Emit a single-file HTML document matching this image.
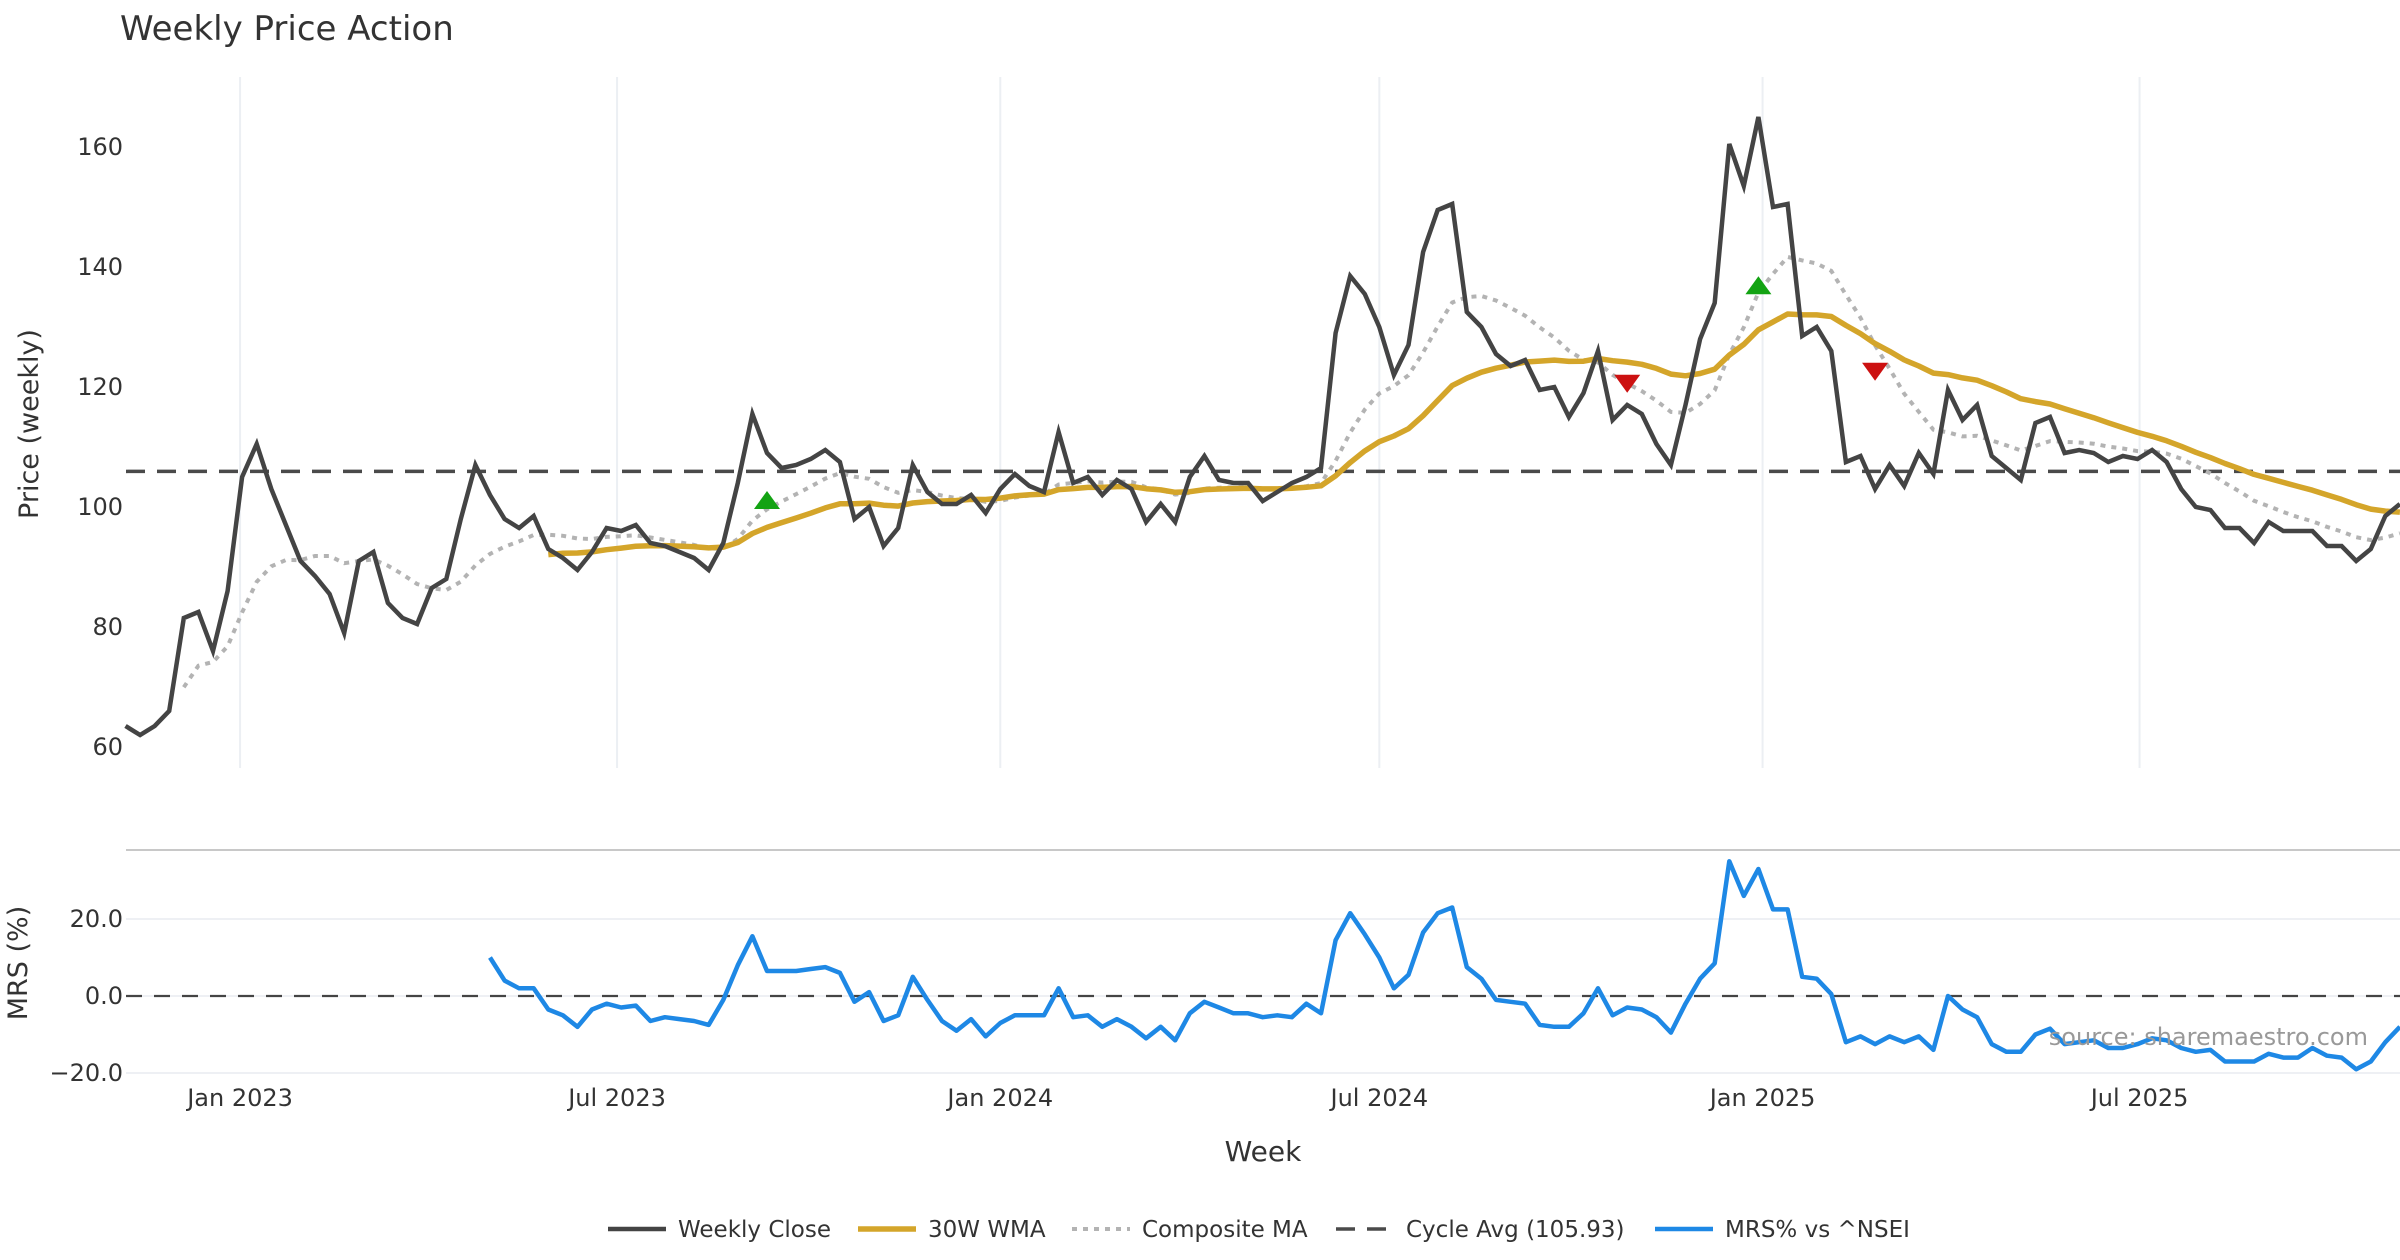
<!DOCTYPE html>
<html><head><meta charset="utf-8"><title>Weekly Price Action</title>
<style>
html,body{margin:0;padding:0;background:#fff;}
svg{display:block;font-family:"DejaVu Sans","Liberation Sans",sans-serif;}
</style></head>
<body>
<svg id="chart" width="2400" height="1260" viewBox="0 0 2400 1260" xmlns="http://www.w3.org/2000/svg">
<rect x="0" y="0" width="2400" height="1260" fill="#fff"/>
<text x="120" y="40" font-size="34" fill="#333">Weekly Price Action</text>
<g id="grid"></g>
<g id="main"></g>
<g id="mrs"></g>
<text transform="translate(38,424) rotate(-90)" text-anchor="middle" font-size="27" fill="#333">Price (weekly)</text>
<text transform="translate(27,963) rotate(-90)" text-anchor="middle" font-size="27" fill="#333">MRS (%)</text>
<text x="1263" y="1161" text-anchor="middle" font-size="28" fill="#333">Week</text>
<text x="2368" y="1045" text-anchor="end" font-size="24" fill="#999">source: sharemaestro.com</text>
<g id="legend"></g>
</svg>
<script>
const closes = [63.5,62,63.5,66,81.5,82.5,76,86,105,110.5,
103,97,91,88.5,85.5,79,91,92.5,84,81.5,
80.5,86.5,88,98,107,102,98,96.5,98.5,93,
91.5,89.5,92.5,96.5,96,97,94,93.5,92.5,91.5,
89.5,94,104,115.5,109,106.5,107,108,109.5,107.5,
98,100,93.5,96.5,107,102.5,100.5,100.5,102,99,
103,105.5,103.5,102.5,112.5,104,105,102,104.5,103,
97.5,100.5,97.5,105,108.5,104.5,104,104,101,102.5,
104,105,106.5,129,138.5,135.5,130,122,127,142.5,
149.5,150.5,132.5,130,125.5,123.5,124.5,119.5,120,115,
119,126,114.5,117,115.5,110.5,107,117,128,134,
160.5,153.5,165,150,150.5,128.5,130,126,107.5,108.5,
103,107,103.5,109,105.5,119.5,114.5,117,108.5,106.5,
104.5,114,115,109,109.5,109,107.5,108.5,108,109.5,
107.5,103,100,99.5,96.5,96.5,94,97.5,96,96,
96,93.5,93.5,91,93,98.5,100.5];
const mrsStart = 25;
const mrsValues = [10,4,2,2,-3.5,-5,-8,-3.5,-2,-3,
-2.5,-6.5,-5.5,-6,-6.5,-7.5,-1,8,15.5,6.5,
6.5,6.5,7,7.5,6,-1.5,1,-6.5,-5,5,
-1,-6.5,-9,-6,-10.5,-7,-5,-5,-5,2,
-5.5,-5,-8,-6,-8,-11,-8,-11.5,-4.5,-1.5,
-3,-4.5,-4.5,-5.5,-5,-5.5,-2,-4.5,14.5,21.5,
16,10,2,5.5,16.5,21.5,23,7.5,4.5,-1,
-1.5,-2,-7.5,-8,-8,-4.5,2,-5,-3,-3.5,
-5.5,-9.5,-2,4.5,8.5,35,26,33,22.5,22.5,
5,4.5,0.5,-12,-10.5,-12.5,-10.5,-12,-10.5,-14,
0,-3.5,-5.5,-12.5,-14.5,-14.5,-10,-8.5,-12.5,-12,
-11.5,-13.5,-13.5,-12.5,-11,-11.5,-13.5,-14.5,-14,-17,
-17,-17,-15,-16,-16,-13.5,-15.5,-16,-19,-17,
-12,-8];
const cycleAvg = 105.93;
const buyIdx = [44,112];
const buyVals = [101,136.8];
const sellIdx = [103,120];
const sellVals = [120.7,122.7];
const priceTicks = [60,80,100,120,140,160];
const mrsTicks = [-20,0,20];
const mrsTickLabels = ["\u221220.0","0.0","20.0"];
const xTickDates = ["2023-01-01","2023-07-01","2024-01-01","2024-07-01","2025-01-01","2025-07-01"];
const xTickLabels = ["Jan 2023","Jul 2023","Jan 2024","Jul 2024","Jan 2025","Jul 2025"];
const startDate = "2022-11-07";

const NS="http://www.w3.org/2000/svg";
const DAY=86400000, PX_PER_DAY=2.0828, X0=125.5;
const t0=Date.parse(startDate);
function xDate(s){return X0+(Date.parse(s)-t0)/DAY*PX_PER_DAY;}
function xIdx(i){return X0+i*7*PX_PER_DAY;}
function yP(v){return 747-(v-60)*6.0;}
function yM(v){return 996-v*3.85;}
function mk(tag,attrs,parent){const e=document.createElementNS(NS,tag);for(const k in attrs)e.setAttribute(k,attrs[k]);parent.appendChild(e);return e;}
const grid=document.getElementById('grid'),main=document.getElementById('main'),mrsG=document.getElementById('mrs'),leg=document.getElementById('legend');

xTickDates.forEach((d,i)=>{
  const x=xDate(d);
  const g=mk('line',{x1:x,x2:x,y1:77,y2:768,stroke:'#eceff3','stroke-width':2},grid);
  
  
  const t=mk('text',{x:x,y:1106,'text-anchor':'middle','font-size':24,fill:'#333'},grid);
  t.textContent=xTickLabels[i];
  
  
});
priceTicks.forEach(v=>{
  const t=mk('text',{x:123,y:yP(v)+8,'text-anchor':'end','font-size':24,fill:'#333'},grid);
  t.textContent=v;
  
  
});
const sep=mk('line',{x1:126,x2:2400,y1:850,y2:850,stroke:'#c8c8c8','stroke-width':2},mrsG);


mrsTicks.forEach((v,i)=>{
  const l=mk('line',{x1:126,x2:2400,y1:yM(v),y2:yM(v),stroke:'#eef0f4','stroke-width':2},mrsG);
  
  
  const t=mk('text',{x:123,y:yM(v)+8,'text-anchor':'end','font-size':24,fill:'#333'},mrsG);
  t.textContent=mrsTickLabels[i];
  
  
});
const zl=mk('line',{x1:126,x2:2400,y1:yM(0),y2:yM(0),stroke:'#444','stroke-width':2.2,'stroke-dasharray':'16,12'},mrsG);



function path(pts){return pts.map((p,i)=>(i?'L':'M')+p[0].toFixed(1)+' '+p[1].toFixed(1)).join(' ');}
function wma(arr,n,minP){const out=[];for(let i=minP-1;i<arr.length;i++){const m=Math.min(n,i+1);let s=0,w=0;for(let k=0;k<m;k++){s+=arr[i-m+1+k]*(k+1);w+=k+1;}out.push([i,s/w]);}return out;}
const comp=wma(closes,13,5), w30=wma(closes,30,30);

const cyc=mk('line',{x1:126,x2:2400,y1:yP(cycleAvg),y2:yP(cycleAvg),stroke:'#4a4a4a','stroke-width':3.5,'stroke-dasharray':'19,12'},main);



const pc=mk('path',{d:path(comp.map(p=>[xIdx(p[0]),yP(p[1])])),fill:'none',stroke:'#b3b3b3','stroke-width':4,'stroke-dasharray':'5,6'},main);


const pw=mk('path',{d:path(w30.map(p=>[xIdx(p[0]),yP(p[1])])),fill:'none',stroke:'#d4a52a','stroke-width':5.5,'stroke-linejoin':'round'},main);


const pcl=mk('path',{d:path(closes.map((v,i)=>[xIdx(i),yP(v)])),fill:'none',stroke:'#444','stroke-width':4.5,'stroke-linejoin':'miter'},main);



buyIdx.forEach((ix,i)=>{
  const x=xIdx(ix),y=yP(buyVals[i]);
  const m=mk('polygon',{points:`${x-13},${y+8} ${x+13},${y+8} ${x},${y-10}`,fill:'#13a313'},main);
  
  
});
sellIdx.forEach((ix,i)=>{
  const x=xIdx(ix),y=yP(sellVals[i]);
  const m=mk('polygon',{points:`${x-13},${y-8} ${x+13},${y-8} ${x},${y+10}`,fill:'#cc1111'},main);
  
  
});

const pm=mk('path',{d:path(mrsValues.map((v,i)=>[xIdx(i+mrsStart),yM(v)])),fill:'none',stroke:'#1e88e5','stroke-width':4.5,'stroke-linejoin':'round'},mrsG);



const items=[
 {x:608,label:'Weekly Close',stroke:'#444',w:4.5,dash:''},
 {x:858,label:'30W WMA',stroke:'#d4a52a',w:5.5,dash:''},
 {x:1072,label:'Composite MA',stroke:'#b3b3b3',w:4,dash:'5,6'},
 {x:1336,label:'Cycle Avg (105.93)',stroke:'#4a4a4a',w:3.5,dash:'19,12'},
 {x:1655,label:'MRS% vs ^NSEI',stroke:'#1e88e5',w:4.5,dash:''}
];
items.forEach(it=>{
  const g=mk('g',{},leg);
  
  
  mk('line',{x1:it.x,x2:it.x+58,y1:1229,y2:1229,stroke:it.stroke,'stroke-width':it.w,'stroke-dasharray':it.dash},g);
  const t=mk('text',{x:it.x+70,y:1237,'font-size':23,fill:'#333'},g);
  t.textContent=it.label;
});
</script>
</body></html>
